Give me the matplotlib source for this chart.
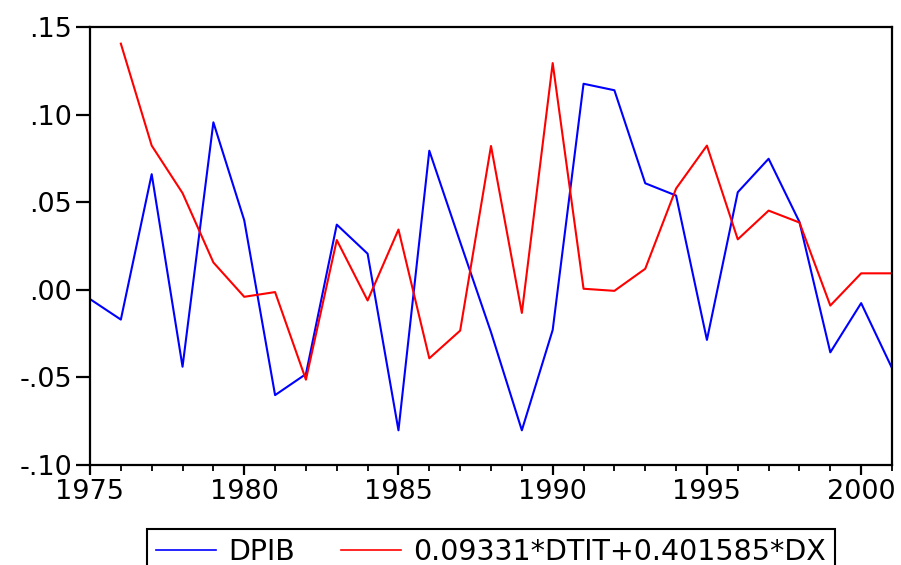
import numpy as np
import matplotlib.pyplot as plt
from matplotlib.ticker import MultipleLocator, FixedLocator

plt.rcParams['font.family'] = ['DejaVu Sans']

years = list(range(1975, 2002))
dpib = [-0.0053, -0.0170, 0.0660, -0.0439, 0.0956, 0.0397, -0.0601, -0.0481, 0.0372, 0.0206,
        -0.0802, 0.0794, 0.0273, -0.0242, -0.0802, -0.0229, 0.1176, 0.1139, 0.0608, 0.0538,
        -0.0286, 0.0557, 0.0748, 0.0387, -0.0357, -0.0076, -0.0447]
fit_years = list(range(1976, 2002))
fitted = [0.1405, 0.0823, 0.0552, 0.0156, -0.0040, -0.0013, -0.0513, 0.0284, -0.0061,
          0.0344, -0.0391, -0.0233, 0.0821, -0.0132, 0.1294, 0.0006, -0.0006, 0.0120, 0.0578,
          0.0823, 0.0288, 0.0452, 0.0384, -0.0090, 0.0094, 0.0094]
ytick_vals = [-0.10, -0.05, 0.00, 0.05, 0.10, 0.15]
ytick_labels = ['-.10', '-.05', '.00', '.05', '.10', '.15']
xtick_vals = [1975, 1980, 1985, 1990, 1995, 2000]

fig = plt.figure(figsize=(9.01, 5.65), dpi=100)
ax = fig.add_axes([90/901, 1-465/565, (892-90)/901, (465-27)/565])

ax.plot(years, dpib, color='#0000ff', lw=1.5, label='DPIB')
ax.plot(fit_years, fitted, color='#ff0000', lw=1.5, label='0.09331*DTIT+0.401585*DX')

ax.set_xlim(1975, 2001)
ax.set_ylim(-0.10, 0.15)
ax.xaxis.set_major_locator(FixedLocator(xtick_vals))
ax.xaxis.set_minor_locator(MultipleLocator(1))
ax.set_yticks(ytick_vals)
ax.set_yticklabels(ytick_labels)

for s in ax.spines.values():
    s.set_linewidth(1.6)
ax.tick_params(axis='both', which='major', labelsize=19.5, width=1.6, direction='out')
ax.tick_params(axis='x', which='major', length=7, pad=3)
ax.tick_params(axis='x', which='minor', width=1.3, length=4, direction='out')
ax.tick_params(axis='y', which='major', length=10, pad=3)

leg = fig.legend(loc='upper center', bbox_to_anchor=(491/901, 1-529/565), ncol=2,
                 fontsize=20.5, frameon=True, fancybox=False, framealpha=1,
                 edgecolor='black', handlelength=2.1, handletextpad=0.45,
                 columnspacing=1.6, borderpad=0.3, borderaxespad=0)
leg.get_frame().set_linewidth(1.5)
for l in leg.get_lines():
    l.set_linewidth(1.2)

fig.savefig('out.png', dpi=100)
